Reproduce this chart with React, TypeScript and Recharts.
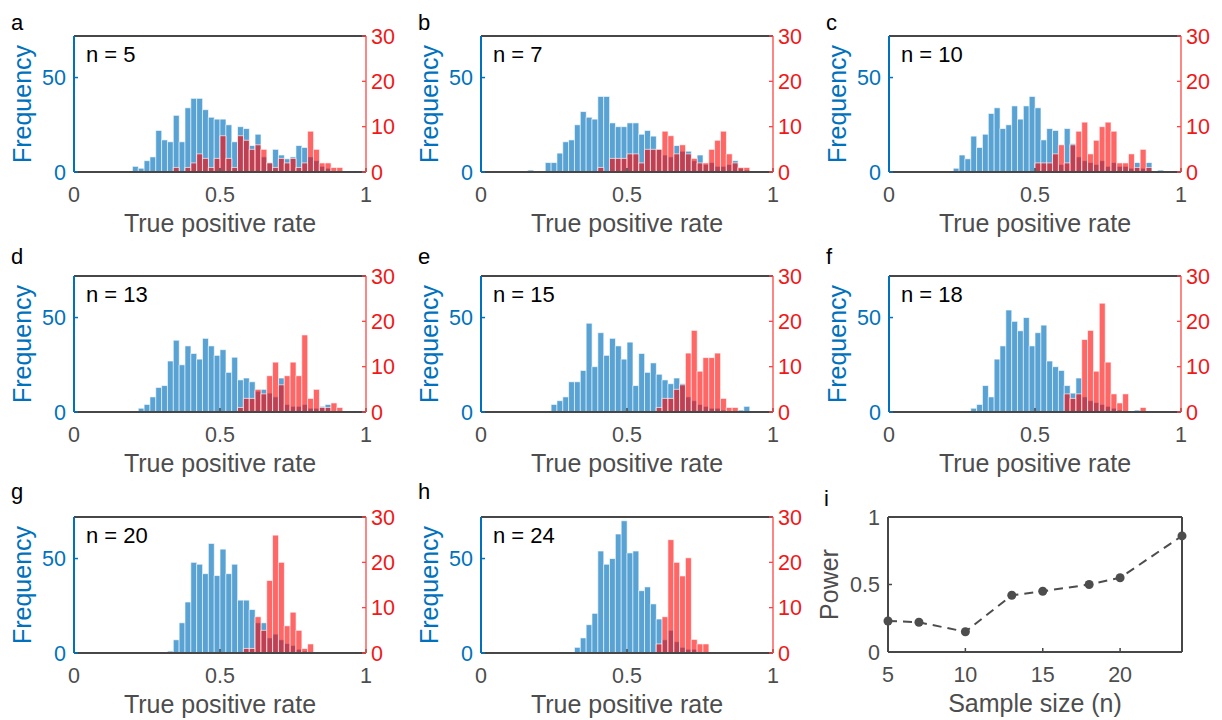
// Simulation figure: TPR histograms for sample sizes n = 5..24 (blue = null, red = effect)
// plus the power curve in panel i. Each panel is its own Recharts chart, placed absolutely.
import React from 'react';
import { ComposedChart, Bar, Line, XAxis, YAxis } from 'recharts';

const BINS = 50; // bin width 0.02 over [0, 1]
const binCenters = Array.from({ length: BINS }, (_, i) => i * 0.02 + 0.01);

// counts start at a given bin index, everything else is empty
const pad = (start: number, counts: number[]) =>
  Array.from({ length: BINS }, (_, i) =>
    i >= start && i < start + counts.length ? counts[i - start] : 0
  );

const blueN5 = pad(10, [3, 2, 6, 8, 22, 17, 16, 30, 16, 34, 39, 39, 33, 29, 28, 28, 25, 16, 24, 23, 14, 20, 8, 5, 12, 9, 7, 8, 14, 13, 8, 6, 3, 2]);
const redN5 = pad(17, [1, 0, 1, 2, 4, 3, 1, 3, 8, 3, 1, 8, 7, 5, 6, 5, 2, 1, 3, 2, 3, 1, 2, 9, 5, 2, 2, 1, 1]);

const blueN7 = pad(8, [1, 0, 0, 5, 5, 10, 16, 17, 25, 32, 29, 28, 40, 40, 26, 24, 24, 26, 26, 20, 22, 19, 12, 9, 8, 14, 11, 11, 6, 9, 4, 5, 3, 3, 4, 6, 2, 1]);
const redN7 = pad(20, [1, 0, 3, 3, 3, 4, 4, 2, 5, 5, 5, 9, 8, 4, 6, 4, 3, 2, 2, 5, 7, 9, 4, 2, 1, 1]);

const blueN10 = pad(11, [2, 9, 7, 19, 13, 20, 31, 34, 23, 25, 35, 28, 35, 40, 34, 17, 23, 22, 4, 23, 15, 8, 6, 5, 4, 6, 3, 5, 3, 3, 2, 5, 2, 5, 0, 1]);
const redN10 = pad(25, [2, 2, 2, 4, 6, 2, 6, 9, 11, 4, 7, 10, 11, 9, 2, 2, 4, 1, 5, 1]);

const blueN13 = pad(11, [2, 4, 8, 13, 14, 27, 38, 25, 35, 31, 28, 39, 35, 30, 33, 21, 29, 17, 18, 16, 11, 12, 10, 8, 18, 4, 3, 3, 4, 2, 2, 3, 4]);
const redN13 = pad(28, [1, 3, 3, 5, 4, 8, 11, 6, 8, 11, 8, 17, 3, 5, 1, 1, 2, 1]);

const blueN15 = pad(12, [4, 6, 8, 16, 16, 22, 47, 24, 42, 30, 39, 35, 28, 37, 14, 31, 21, 26, 20, 17, 15, 18, 15, 8, 6, 4, 3, 2, 2, 1, 0, 0, 1, 3]);
const redN15 = pad(30, [1, 3, 3, 5, 6, 13, 18, 9, 12, 12, 13, 3, 1, 1]);

const blueN18 = pad(14, [2, 4, 14, 8, 28, 35, 54, 48, 43, 50, 35, 42, 46, 27, 24, 22, 14, 10, 18, 8, 6, 5, 4, 3, 2, 1, 0, 0, 1]);
const redN18 = pad(30, [4, 3, 4, 16, 18, 9, 24, 11, 4, 2, 4, 0, 0, 1]);

const blueN20 = pad(16, [1, 7, 16, 27, 48, 47, 42, 58, 41, 55, 42, 47, 28, 28, 23, 16, 16, 8, 10, 7, 5, 4, 2, 1]);
const redN20 = pad(29, [1, 1, 8, 5, 16, 26, 20, 6, 9, 5, 1, 2]);

const blueN24 = pad(16, [3, 8, 15, 21, 54, 47, 50, 63, 70, 53, 54, 33, 35, 26, 18, 7, 12, 6, 3, 2, 2]);
const redN24 = pad(30, [2, 8, 25, 20, 17, 21, 3, 2, 2]);

// panel i
const sampleSizes = [5, 7, 10, 13, 15, 18, 20, 24];
const power = [0.23, 0.22, 0.15, 0.42, 0.45, 0.5, 0.55, 0.86];

const panels = [
  { letter: 'a', n: 5, blue: blueN5, red: redN5 },
  { letter: 'b', n: 7, blue: blueN7, red: redN7 },
  { letter: 'c', n: 10, blue: blueN10, red: redN10 },
  { letter: 'd', n: 13, blue: blueN13, red: redN13 },
  { letter: 'e', n: 15, blue: blueN15, red: redN15 },
  { letter: 'f', n: 18, blue: blueN18, red: redN18 },
  { letter: 'g', n: 20, blue: blueN20, red: redN20 },
  { letter: 'h', n: 24, blue: blueN24, red: redN24 },
];

const BLUE = '#0072BD';
const RED = '#FF0000';
const BOX = '#474747';
const GRAY = '#4D4D4D';
const TICK_FS = 21.5;
const LABEL_FS = 25;
const NOTE_FS = 22;

// layout (page pixels)
const plotLefts = [74, 481, 889];
const plotTops = [36, 276, 516.5];
const letterGaps = [6, 12, 18]; // panel letter baseline above the plot top

// chart geometry for histograms
const W = 410;
const H = 260;
const PL = 75; // left axis width
const PR = 43; // right axis width
const PT = 56; // room above the plot for the panel letter
const PH = 136;
const PW = W - PL - PR;

function HistPanel({ letter, n, blue, red, left, top, letterGap }: any) {
  const data = binCenters.map((x, i) => ({ x, bin: i, blue: blue[i], red: red[i] }));

  // y label plus the panel letter and the sample size note
  const leftLabels = () => (
    <g>
      <text transform={`translate(${PL - 43},${PT + PH / 2}) rotate(-90)`} textAnchor="middle" fontSize={LABEL_FS} fill={BLUE}>
        Frequency
      </text>
      <text x={12} y={PT - letterGap} fontSize={NOTE_FS} fill="#000">{letter}</text>
      <text x={PL + 12} y={PT + 25.5} fontSize={NOTE_FS} fill="#000">{`n = ${n}`}</text>
    </g>
  );
  const xLabel = () => (
    <text x={PL + PW / 2} y={PT + PH + 59.5} textAnchor="middle" fontSize={LABEL_FS} fill={GRAY}>
      True positive rate
    </text>
  );

  return (
    <div style={{ position: 'absolute', left, top }}>
      <ComposedChart
        width={W}
        height={H}
        data={data}
        margin={{ top: PT - 1, right: 0, bottom: H - PT - PH - 40, left: 0 }}
        barCategoryGap={0}
        barGap={0}
      >
        <XAxis xAxisId="cb" dataKey="bin" hide />
        <XAxis xAxisId="cr" dataKey="bin" hide />
        <Bar xAxisId="cb" yAxisId="l" dataKey="blue" fill={BLUE} fillOpacity={0.65} stroke="#ffffff" strokeOpacity={0.8} strokeWidth={0.8} isAnimationActive={false} />
        <Bar xAxisId="cr" yAxisId="r" dataKey="red" fill={RED} fillOpacity={0.6} stroke="#ffffff" strokeOpacity={0.8} strokeWidth={0.8} isAnimationActive={false} />
        <XAxis
          xAxisId="top"
          orientation="top"
          type="number"
          dataKey="x"
          domain={[0, 1]}
          allowDataOverflow
          ticks={[0, 0.5, 1]}
          height={1}
          tick={false}
          tickSize={-4}
          axisLine={{ stroke: BOX, strokeWidth: 2 }}
          tickLine={{ stroke: BOX, strokeWidth: 1.5 }}
        />
        <XAxis
          xAxisId="bottom"
          type="number"
          dataKey="x"
          domain={[0, 1]}
          allowDataOverflow
          ticks={[0, 0.5, 1]}
          interval={0}
          height={40}
          tickSize={-4}
          tickMargin={19}
          axisLine={{ stroke: BOX, strokeWidth: 2 }}
          tickLine={{ stroke: BOX, strokeWidth: 1.5 }}
          tick={{ fill: GRAY, fontSize: TICK_FS }}
          label={xLabel}
        />
        <YAxis
          yAxisId="l"
          domain={[0, 72]}
          allowDataOverflow
          ticks={[0, 50]}
          interval={0}
          width={PL}
          tickSize={-4}
          tickMargin={12}
          axisLine={{ stroke: BLUE, strokeWidth: 2 }}
          tickLine={{ stroke: BLUE, strokeWidth: 1.5 }}
          tick={{ fill: BLUE, fontSize: TICK_FS }}
          label={leftLabels}
        />
        <YAxis
          yAxisId="r"
          orientation="right"
          domain={[0, 30]}
          allowDataOverflow
          ticks={[0, 10, 20, 30]}
          interval={0}
          width={PR}
          tickSize={-4}
          tickMargin={9}
          axisLine={{ stroke: '#FF4444', strokeWidth: 1.3 }}
          tickLine={{ stroke: '#FF4444', strokeWidth: 1.3 }}
          tick={{ fill: '#F01818', fontSize: TICK_FS }}
        />
      </ComposedChart>
    </div>
  );
}

function PowerPanel() {
  const data = sampleSizes.map((n, i) => ({ n, power: power[i] }));
  const iW = 389;
  const iPW = 294;
  const iPH = 135;

  const leftLabels = () => (
    <g>
      <text transform={`translate(${PL - 50},${PT + iPH / 2}) rotate(-90)`} textAnchor="middle" fontSize={LABEL_FS} fill={GRAY}>
        Power
      </text>
      <text x={11} y={PT - 11} fontSize={NOTE_FS} fill="#000">i</text>
    </g>
  );
  const xLabel = () => (
    <text x={PL + iPW / 2} y={PT + iPH + 59.5} textAnchor="middle" fontSize={LABEL_FS} fill={GRAY}>
      Sample size (n)
    </text>
  );

  return (
    <div style={{ position: 'absolute', left: 888 - PL, top: 517 - PT }}>
      <ComposedChart width={iW} height={H} data={data} margin={{ top: PT - 1, right: 0, bottom: H - PT - iPH - 40, left: 0 }}>
        <Line
          xAxisId="b"
          yAxisId="l"
          type="linear"
          dataKey="power"
          stroke={GRAY}
          strokeWidth={2}
          strokeDasharray="9 6"
          dot={{ r: 4.5, fill: GRAY, stroke: GRAY, strokeWidth: 0 }}
          isAnimationActive={false}
        />
        <XAxis
          xAxisId="t"
          orientation="top"
          type="number"
          dataKey="n"
          domain={[5, 24]}
          ticks={[5, 10, 15, 20]}
          height={1}
          tick={false}
          tickSize={-4}
          axisLine={{ stroke: BOX, strokeWidth: 2 }}
          tickLine={{ stroke: BOX, strokeWidth: 1.5 }}
        />
        <XAxis
          xAxisId="b"
          type="number"
          dataKey="n"
          domain={[5, 24]}
          ticks={[5, 10, 15, 20]}
          interval={0}
          height={40}
          tickSize={-4}
          tickMargin={19}
          axisLine={{ stroke: BOX, strokeWidth: 2 }}
          tickLine={{ stroke: BOX, strokeWidth: 1.5 }}
          tick={{ fill: GRAY, fontSize: TICK_FS }}
          label={xLabel}
        />
        <YAxis
          yAxisId="l"
          dataKey="power"
          domain={[0, 1]}
          ticks={[0, 0.5, 1]}
          interval={0}
          width={PL}
          tickSize={-4}
          tickMargin={12}
          axisLine={{ stroke: BOX, strokeWidth: 2 }}
          tickLine={{ stroke: BOX, strokeWidth: 1.5 }}
          tick={{ fill: GRAY, fontSize: TICK_FS }}
          label={leftLabels}
        />
        <YAxis
          yAxisId="r"
          orientation="right"
          dataKey="power"
          domain={[0, 1]}
          ticks={[0, 0.5, 1]}
          width={iW - PL - iPW}
          tick={false}
          tickSize={-4}
          axisLine={{ stroke: BOX, strokeWidth: 2 }}
          tickLine={{ stroke: BOX, strokeWidth: 1.5 }}
        />
      </ComposedChart>
    </div>
  );
}

export default function App() {
  return (
    <div
      style={{
        position: 'absolute',
        left: 0,
        top: 0,
        width: 1222,
        height: 720,
        background: '#ffffff',
        fontFamily: '"Liberation Sans", Arial, Helvetica, sans-serif',
        overflow: 'hidden',
      }}
    >
      {panels.map((p, idx) => {
        const col = idx % 3;
        const row = Math.floor(idx / 3);
        return (
          <HistPanel
            key={p.letter}
            letter={p.letter}
            n={p.n}
            blue={p.blue}
            red={p.red}
            left={plotLefts[col] - PL}
            top={plotTops[row] - PT}
            letterGap={letterGaps[row]}
          />
        );
      })}
      <PowerPanel />
    </div>
  );
}
